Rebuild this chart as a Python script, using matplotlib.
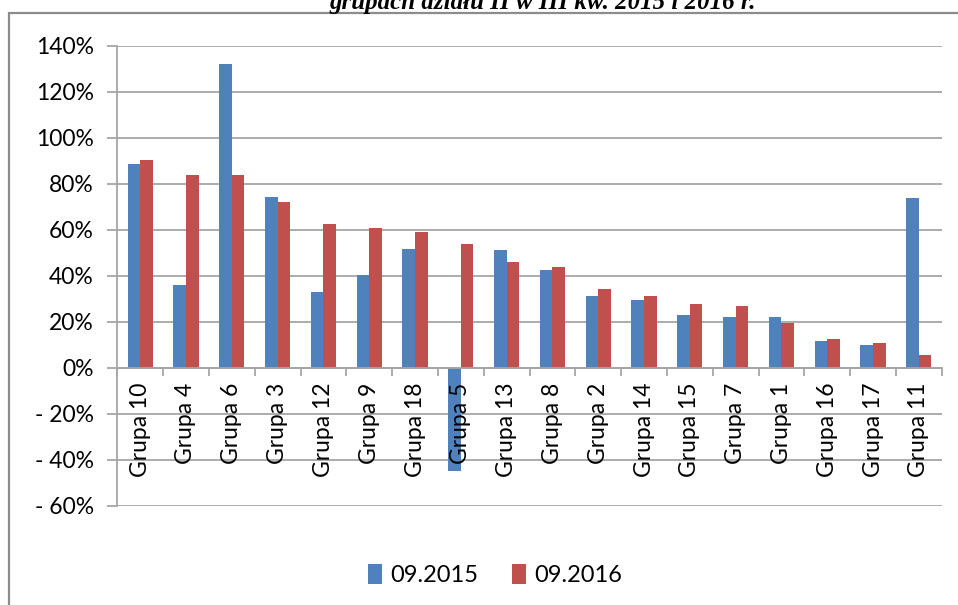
import numpy as np
import matplotlib.pyplot as plt
from matplotlib.ticker import FuncFormatter, MultipleLocator
from matplotlib.patches import Rectangle

groups = ['Grupa 10', 'Grupa 4', 'Grupa 6', 'Grupa 3', 'Grupa 12', 'Grupa 9',
          'Grupa 18', 'Grupa 5', 'Grupa 13', 'Grupa 8', 'Grupa 2', 'Grupa 14',
          'Grupa 15', 'Grupa 7', 'Grupa 1', 'Grupa 16', 'Grupa 17', 'Grupa 11']
sep_2015 = [88.6, 36.0, 132.1, 74.2, 32.8, 40.2, 51.6, -44.9, 51.2, 42.6,
            31.2, 29.2, 22.7, 22.1, 22.1, 11.4, 10.0, 73.6]
sep_2016 = [90.2, 83.7, 83.7, 72.0, 62.5, 60.7, 59.1, 53.8, 45.7, 43.6,
            34.0, 31.2, 27.5, 26.9, 19.5, 12.6, 10.8, 5.6]
series_names = ['09.2015', '09.2016']
title = 'grupach działu II w III kw. 2015 i 2016 r.'

blue = '#4F81BD'
red = '#C0504D'
grid_c = '#A6A6A6'
font = 'Lato'
fs = 16.5

fig = plt.figure(figsize=(9.58, 6.05), dpi=100)
W, H = 958, 605

# outer chart frame (only left and top visible in the crop)
fig.patches.append(Rectangle((9 / W, -0.1), 1.2, 1 - 13.5 / H + 0.1,
                             transform=fig.transFigure, fill=False,
                             edgecolor='#8C8C8C', linewidth=1.6))

# title, cut off at the top of the image like in the source
fig.text(543 / W, 1 - 9 / H, title, ha='center', va='baseline',
         fontsize=18, fontweight='bold', fontstyle='italic',
         family='Liberation Serif')

ax = fig.add_axes([117.3 / W, 1 - 505.5 / H, (941.7 - 117.3) / W, (505.5 - 45.7) / H])

x = np.arange(len(groups))
bw = 0.275
ax.bar(x - bw / 2, sep_2015, bw, color=blue, label=series_names[0], zorder=3)
ax.bar(x + bw / 2, sep_2016, bw, color=red, label=series_names[1], zorder=3)

ax.set_xlim(-0.5, len(groups) - 0.5)
ax.set_ylim(-60, 140)
ax.yaxis.set_major_locator(MultipleLocator(20))


def pct(v, pos):
    v = int(round(v))
    if v < 0:
        return '- %d%%' % (-v)
    return '%d%%' % v


ax.yaxis.set_major_formatter(FuncFormatter(pct))
ax.grid(axis='y', color=grid_c, linewidth=1.3, zorder=0)

for s in ['top', 'right']:
    ax.spines[s].set_visible(False)
ax.spines['left'].set_color(grid_c)
ax.spines['left'].set_linewidth(1.3)
ax.spines['bottom'].set_position(('data', 0))
ax.spines['bottom'].set_color(grid_c)
ax.spines['bottom'].set_linewidth(1.3)
ax.spines['bottom'].set_zorder(4)

# category labels drawn above the bars (the Grupa 5 bar runs under its label)
ax.set_xticks(x)
ax.set_xticklabels([])
for i, g in enumerate(groups):
    ax.annotate(g, (i, 0), xytext=(0, -11), textcoords='offset points',
                rotation=90, ha='center', va='top', fontsize=fs,
                family=font, zorder=6, annotation_clip=False)
ax.set_xticks(np.arange(len(groups) + 1) - 0.5, minor=True)
ax.tick_params(axis='x', which='major', length=0)
ax.tick_params(axis='x', which='minor', length=6, color=grid_c, width=1.3)
ax.tick_params(axis='y', length=7, color=grid_c, width=1.3, labelsize=fs, pad=10)
for lab in ax.get_yticklabels():
    lab.set_family(font)

fig.legend(loc='center', bbox_to_anchor=(495 / W, 1 - 575 / H), ncol=2,
           frameon=False, handlelength=0.6, handleheight=0.9,
           handletextpad=0.35, columnspacing=1.4,
           prop={'family': font, 'size': 17})

fig.savefig('out.png', dpi=100)
